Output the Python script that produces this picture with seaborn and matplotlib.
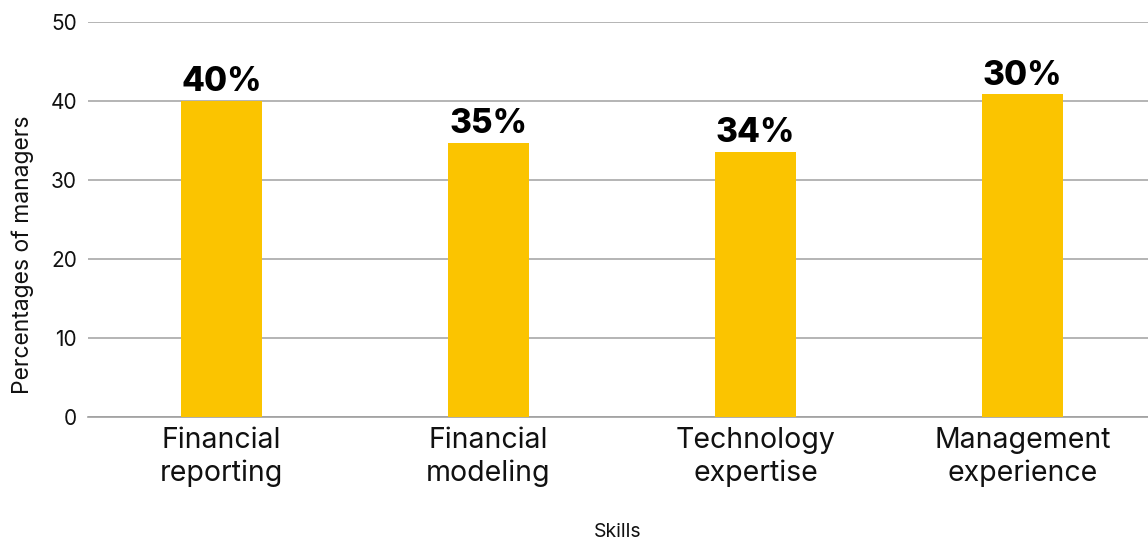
import matplotlib
matplotlib.use("Agg")
import matplotlib.pyplot as plt
import seaborn as sns
import pandas as pd

categories = ["Financial\nreporting", "Financial\nmodeling", "Technology\nexpertise", "Management\nexperience"]
values = [40.0, 34.7, 33.6, 40.85]
bar_labels = ["40%", "35%", "34%", "30%"]
yticks = [0, 10, 20, 30, 40, 50]

sns.set_theme(style="white")
plt.rcParams['font.family'] = ['Inter', 'DejaVu Sans']

fig = plt.figure(figsize=(11.48, 5.39), dpi=100)
W, H = 1148, 539
ax = fig.add_axes([88 / W, 122 / H, (W - 88) / W, (417 - 22) / H])

df = pd.DataFrame({"Skills": categories, "Value": values})
sns.barplot(data=df, x="Skills", y="Value", color="#FBC400", width=0.30,
            saturation=1, linewidth=0, edgecolor="none", ax=ax, zorder=3)

ax.set_ylim(0, 50)
ax.set_xlim(-0.5, 3.47)
ax.set_yticks(yticks)
ax.yaxis.grid(True, color="#a8a8a8", linewidth=1.2, zorder=0)
ax.set_axisbelow(True)
for s in ["top", "right", "left"]:
    ax.spines[s].set_visible(False)
ax.spines["bottom"].set_color("#a0a0a0")
ax.spines["bottom"].set_linewidth(1.2)
ax.tick_params(axis="y", length=0, pad=8, labelsize=15, colors="#111111")
ax.tick_params(axis="x", length=0, pad=7, labelsize=20.5, colors="#111111")
for t in ax.get_xticklabels():
    t.set_linespacing(1.25)

ax.set_ylabel("Percentages of managers", fontsize=16.5, color="#111111")
ax.yaxis.set_label_coords(-0.051, 0.41)
ax.set_xlabel("Skills", fontsize=14, labelpad=26, color="#111111")

ax.bar_label(ax.containers[0], labels=bar_labels, padding=2, fontsize=24,
             fontweight="heavy", color="#000000")

fig.savefig("out.png", dpi=100)
